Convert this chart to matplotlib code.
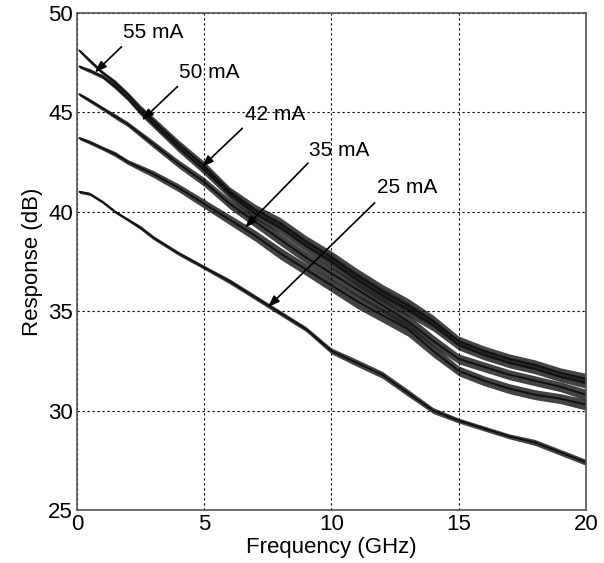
import matplotlib
matplotlib.use("Agg")
import matplotlib.pyplot as plt
import numpy as np

plt.rcParams['font.family'] = ['Liberation Sans', 'DejaVu Sans']

freq = [0.1, 0.5, 1, 1.5, 2, 2.5, 3, 4, 5, 6, 7, 8, 9, 10, 11, 12, 13, 14, 15, 16, 17, 18, 19, 20]
resp_55 = [48.1, 47.6, 47.0, 46.5, 45.9, 45.2, 44.6, 43.4, 42.3, 41.0, 40.1, 39.4, 38.5, 37.7, 36.8, 36.0, 35.3, 34.5, 33.5, 33.0, 32.6, 32.3, 31.9, 31.6]
resp_50 = [47.3, 47.1, 46.8, 46.3, 45.7, 45.0, 44.4, 43.2, 42.1, 40.9, 39.9, 39.2, 38.3, 37.5, 36.6, 35.8, 35.1, 34.3, 33.3, 32.8, 32.4, 32.1, 31.7, 31.4]
resp_42 = [45.9, 45.6, 45.2, 44.8, 44.4, 43.9, 43.4, 42.4, 41.5, 40.4, 39.5, 38.6, 37.7, 36.9, 36.1, 35.3, 34.5, 33.5, 32.6, 32.2, 31.8, 31.5, 31.2, 30.8]
resp_35 = [43.7, 43.5, 43.2, 42.9, 42.5, 42.2, 41.9, 41.2, 40.4, 39.6, 38.8, 37.9, 37.1, 36.3, 35.5, 34.8, 34.1, 33.0, 32.0, 31.5, 31.1, 30.8, 30.6, 30.3]
resp_25 = [41.0, 40.9, 40.5, 40.0, 39.6, 39.2, 38.7, 37.9, 37.2, 36.5, 35.7, 34.9, 34.1, 33.0, 32.4, 31.8, 30.9, 30.0, 29.5, 29.1, 28.7, 28.4, 27.9, 27.4]
ripple_hi = [0.15, 0.2, 0.2, 0.25, 0.25, 0.3, 0.35, 0.4, 0.45, 0.5, 0.55, 0.6, 0.6, 0.65, 0.7, 0.7, 0.7, 0.6, 0.5, 0.5, 0.5, 0.5, 0.5, 0.55]
ripple_25 = [0.15, 0.15, 0.15, 0.15, 0.15, 0.2, 0.2, 0.2, 0.2, 0.25, 0.25, 0.25, 0.25, 0.3, 0.35, 0.35, 0.35, 0.3, 0.25, 0.25, 0.25, 0.3, 0.3, 0.3]

labels = ['55 mA', '50 mA', '42 mA', '35 mA', '25 mA']
text_pos = [(1.8, 49.0), (4.0, 47.0), (6.6, 44.9), (9.1, 43.1), (11.8, 41.2)]
tip_pos = [(0.7, 47.0), (2.55, 44.6), (4.9, 42.25), (6.6, 39.2), (7.5, 35.2)]
tail_pos = [(1.75, 48.3), (3.95, 46.3), (6.5, 44.2), (9.08, 42.45), (11.7, 40.45)]

fig = plt.figure(figsize=(6.04, 5.63), dpi=100)
ax = fig.add_axes([0.1275, 0.0941, 0.8425, 0.8829])

x = np.array(freq)
series = [resp_55, resp_50, resp_42, resp_35, resp_25]
ripples = [ripple_hi, ripple_hi, ripple_hi, ripple_hi, ripple_25]
for ys, rp in zip(series, ripples):
    y = np.array(ys)
    r = np.array(rp)
    ax.fill_between(x, y - r / 2, y + r / 2, color='#222222', lw=0, alpha=0.85)
    ax.plot(x, y, color='#111111', lw=1.4)

for lab, tp, tip, tail in zip(labels, text_pos, tip_pos, tail_pos):
    ax.annotate('', xy=tip, xytext=tail,
                arrowprops=dict(arrowstyle='-|>,head_length=0.7,head_width=0.25',
                                color='black', lw=1.2, shrinkA=0, shrinkB=0))
    ax.text(tp[0], tp[1], lab, fontsize=15, ha='left', va='center')

ax.set_xlim(0, 20)
ax.set_ylim(25, 50)
ax.set_xticks([0, 5, 10, 15, 20])
ax.set_yticks([25, 30, 35, 40, 45, 50])
ax.grid(True, color='black', linestyle=(0, (2, 2.5)), lw=0.8)
ax.tick_params(direction='in', length=0, labelsize=16, pad=3)
for s in ax.spines.values():
    s.set_color('#555555')
    s.set_linewidth(1.2)
ax.set_xlabel('Frequency (GHz)', fontsize=16, labelpad=1)
ax.set_ylabel('Response (dB)', fontsize=16, labelpad=4)

fig.savefig('out.png', dpi=100)
